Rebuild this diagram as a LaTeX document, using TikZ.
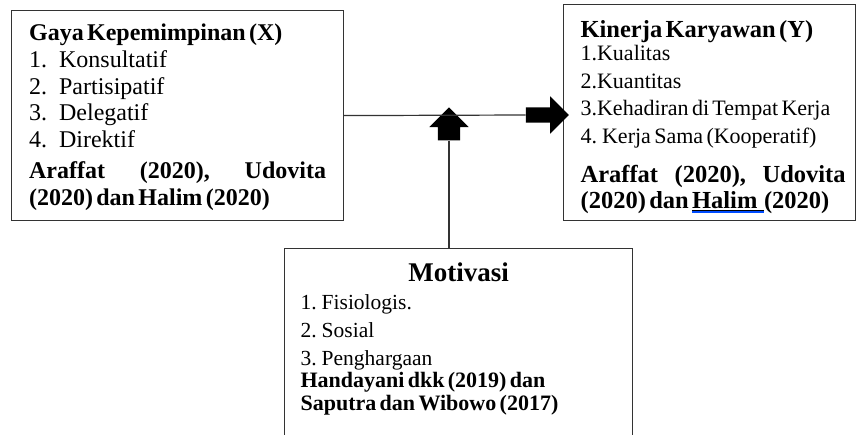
\documentclass[tikz,border=0pt]{standalone}
\usepackage{fontspec}
\setmainfont{Liberation Serif}
\usepackage{tikz}
\usetikzlibrary{shapes.arrows}
\newcommand\markedword[1]{\setbox0\hbox{#1}\rlap{\textcolor{blue!70!cyan}{\rule[-4.5pt]{\wd0}{1.3pt}}}\underline{\box0}}

\begin{document}
\begin{tikzpicture}[x=1pt, y=-1pt,
                    box/.style={draw=black!80, line width=1.2pt, align=left, inner sep=0pt},
                    link/.style={draw=black!80, line width=1.2pt},
                    blockarrow/.style={single arrow, fill=black, inner sep=0pt, minimum width=0pt}]
      \useasboundingbox (0,0) rectangle (856,435);

      \node[box, anchor=north west, minimum width=332pt, minimum height=210pt, text width=297pt] (gaya) at (11,10)
        {\fontsize{24}{26.7}\selectfont
         \rule{0pt}{20pt}\textbf{Gaya Kepemimpinan (X)}\\
         \makebox[30pt][l]{1.}Konsultatif\\
         \makebox[30pt][l]{2.}Partisipatif\\
         \makebox[30pt][l]{3.}Delegatif\\
         \makebox[30pt][l]{4.}Direktif\\[4.3pt]
         \bfseries\makebox[297pt]{Araffat\hfill(2020),\hfill Udovita}\\
         (2020) dan Halim (2020)\par};

      \node[box, anchor=north west, minimum width=292pt, minimum height=216pt, text width=272pt] (kinerja) at (563,4)
        {\leftskip=7pt
         \fontsize{22}{27.5}\selectfont
         {\fontsize{24.5}{20}\selectfont\bfseries\rule{0pt}{26pt}Kinerja Karyawan (Y)}\\[-4.5pt]
         1.Kualitas\\
         2.Kuantitas\\
         3.Kehadiran di Tempat Kerja\\
         4. Kerja Sama (Kooperatif)\\[13pt]
         \fontsize{24.5}{26}\selectfont\bfseries
         \makebox[265pt]{Araffat\hfill(2020),\hfill Udovita}\\
         (2020) dan \markedword{Halim\ \ }(2020)\par};

      \node[box, anchor=north west, inner xsep=16pt, inner ysep=14pt, text width=316pt] (motiv) at (284,248)
        {\fontsize{21.5}{28}\selectfont
         \makebox[316pt]{\fontsize{27}{24}\selectfont\bfseries Motivasi}\\
         1. Fisiologis.\\
         2. Sosial\\
         3. Penghargaan\\
         \fontsize{22}{22.5}\selectfont\bfseries
         Handayani dkk (2019) dan\\
         Saputra dan Wibowo (2017)\\[40pt]
         \mbox{}\par};

      \node[blockarrow, inner ysep=7.5pt, single arrow head extend=11pt, minimum height=43pt] (rarr) at (543.5,115) {};
      \node[blockarrow, rotate=90, inner ysep=11pt, single arrow head extend=8.5pt, minimum height=33pt] (uarr) at (449,129.5) {};

      \draw[link] (gaya.east) -- (rarr.tail);
      \draw[link] (uarr.tail) -- (uarr.tail |- motiv.north);
\end{tikzpicture}
\end{document}
